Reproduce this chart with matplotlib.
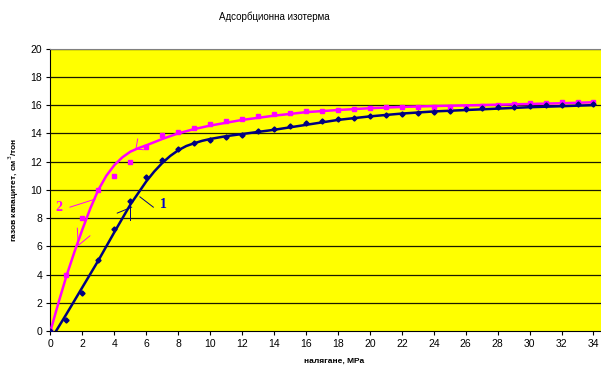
import matplotlib
matplotlib.use("Agg")
import matplotlib.pyplot as plt

plt.rcParams['font.family'] = ['Liberation Sans', 'DejaVu Sans']

# Measured data (pressure, MPa)
pressure = list(range(0, 35))
series1 = [0, 0.8, 2.7, 5.0, 7.2, 9.2, 10.9, 12.1, 12.9, 13.3, 13.55, 13.75, 13.9, 14.15,
           14.3, 14.5, 14.7, 14.85, 15.0, 15.1, 15.2, 15.3, 15.4, 15.45, 15.5, 15.6, 15.7,
           15.8, 15.85, 15.9, 15.95, 16.0, 16.0, 16.05, 16.1]
series2 = [0, 4.0, 8.0, 10.0, 11.0, 12.0, 13.0, 13.85, 14.1, 14.4, 14.65, 14.9, 15.05,
           15.25, 15.35, 15.45, 15.55, 15.6, 15.67, 15.72, 15.8, 15.85, 15.85, 15.85, 15.85,
           15.9, 15.9, 15.95, 16.0, 16.07, 16.12, 16.14, 16.19, 16.24, 16.25]

# Trend curves
curve1_x = [0.35, 1, 2, 3, 4, 5, 6, 6.5, 7, 7.5, 8, 8.5, 9, 9.5, 10, 11, 12, 14, 16, 18,
            20, 22, 24, 26, 28, 30, 32, 34]
curve1_y = [0, 1.2, 3.1, 5.0, 7.0, 8.95, 10.6, 11.3, 11.9, 12.4, 12.8, 13.1, 13.3, 13.47,
            13.6, 13.8, 13.95, 14.25, 14.6, 14.95, 15.2, 15.4, 15.55, 15.65, 15.75, 15.85,
            15.92, 16.0]
curve2_x = [0, 0.5, 1, 1.5, 2, 2.5, 3, 3.5, 4, 4.5, 5, 5.5, 6, 7, 8, 9, 10, 12, 14, 16,
            18, 20, 22, 24, 26, 28, 30, 32, 34]
curve2_y = [0, 2.0, 3.9, 5.6, 7.2, 8.7, 10.0, 11.0, 11.75, 12.3, 12.7, 12.95, 13.15, 13.6,
            14.0, 14.3, 14.55, 14.95, 15.25, 15.5, 15.65, 15.78, 15.87, 15.93, 15.98, 16.03,
            16.08, 16.13, 16.2]

x_ticks = list(range(0, 35, 2))
y_ticks = list(range(0, 21, 2))

NAVY = '#000080'
MAG = '#FF00FF'

fig = plt.figure(figsize=(6.01, 3.65), dpi=100)
ax = fig.add_axes([0.084, 0.0932, 0.916, 0.7736])
ax.set_facecolor('#FFFF00')

for yv in y_ticks[1:]:
    ax.axhline(yv, color='#1a1a00', lw=0.9, zorder=1)

ax.plot(curve2_x, curve2_y, color=MAG, lw=1.8, zorder=3)
ax.plot(pressure, series2, linestyle='none', marker='s', ms=3.5, color=MAG, zorder=4)
ax.plot(curve1_x, curve1_y, color=NAVY, lw=1.8, zorder=3)
ax.plot(pressure, series1, linestyle='none', marker='D', ms=2.6, color=NAVY, zorder=4)

ax.set_xlim(0, 34.47)
ax.set_ylim(0, 20)
ax.set_xticks(x_ticks)
ax.set_yticks(y_ticks)
ax.tick_params(axis='both', labelsize=7.5, length=3, width=0.8, color='black', pad=3)
ax.spines['right'].set_visible(False)
ax.spines['top'].set_color('#808080')
ax.spines['left'].set_color('black')
ax.spines['bottom'].set_color('black')

# annotations
ax.plot([5.6, 6.44], [9.5, 8.77], color=NAVY, lw=0.7, zorder=5)
ax.plot([4.18, 5.08], [8.35, 8.77], color=NAVY, lw=0.7, zorder=5)
ax.plot([4.98, 4.98], [7.87, 8.82], color=NAVY, lw=0.7, zorder=5)
ax.text(7.06, 8.94, '1', color='#0000CC', fontsize=10, fontweight='bold',
        family=['Liberation Serif', 'DejaVu Serif'], ha='center', va='center')
ax.plot([1.22, 2.79], [8.77, 9.34], color=MAG, lw=0.7, zorder=5)
ax.plot([1.68, 1.74], [7.28, 6.1], color=MAG, lw=0.7, zorder=5)
ax.plot([2.47, 1.78], [6.74, 6.1], color=MAG, lw=0.7, zorder=5)
ax.plot([5.46, 5.35], [13.6, 12.89], color=MAG, lw=0.7, zorder=5)
ax.plot([5.35, 5.81], [12.89, 12.84], color=MAG, lw=0.7, zorder=5)
ax.text(0.53, 8.74, '2', color=MAG, fontsize=10, fontweight='bold',
        family=['Liberation Serif', 'DejaVu Serif'], ha='center', va='center')

fig.text(0.456, 0.953, 'Адсорбционна изотерма', fontsize=7, ha='center', va='center')
ax.set_xlabel('налягане, MPa', fontsize=6, fontweight='bold')
ax.xaxis.set_label_coords(0.515, -0.095)
ax.set_ylabel('газов капацитет, см$^3$/тон', fontsize=6, fontweight='bold')
ax.yaxis.set_label_coords(-0.053, 0.5)

fig.savefig('out.png', dpi=100)
